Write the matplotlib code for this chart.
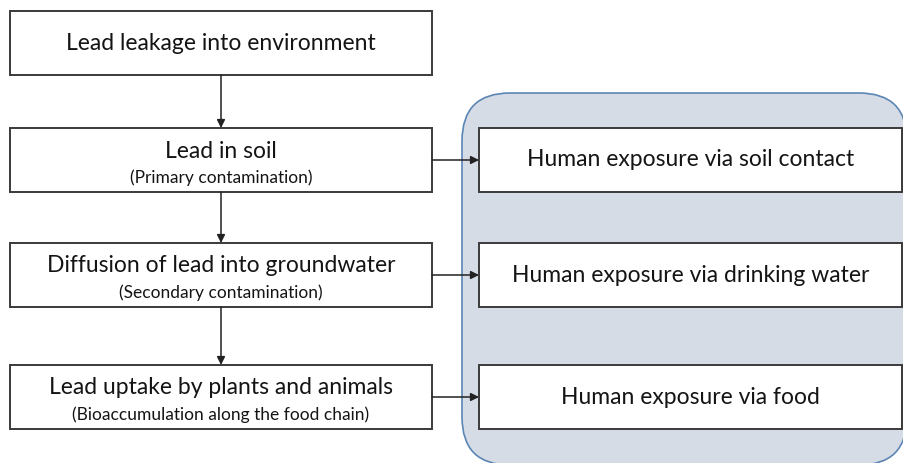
import matplotlib.pyplot as plt
from matplotlib.patches import FancyBboxPatch, Rectangle

# texts of the flow chart
steps = ["Lead leakage into environment", "Lead in soil",
         "Diffusion of lead into groundwater", "Lead uptake by plants and animals"]
notes = ["", "(Primary contamination)", "(Secondary contamination)",
         "(Bioaccumulation along the food chain)"]
exposures = ["Human exposure via soil contact", "Human exposure via drinking water",
             "Human exposure via food"]

plt.rcParams['font.family'] = ['Lato', 'DejaVu Sans']

fig = plt.figure(figsize=(9.04, 4.63), dpi=100)
ax = fig.add_axes([0, 0, 1, 1])
ax.set_xlim(0, 904)
ax.set_ylim(463, 0)
ax.axis("off")

# layout (pixels)
left_x0, left_x1 = 10, 432
right_x0, right_x1 = 479, 902
box_h = 64
left_tops = [11, 128, 243, 365]
right_tops = left_tops[1:]
edge = "#3a3a3a"
txt = "#141414"

# background panel for exposure routes
panel = FancyBboxPatch((462, 93), 445, 372, boxstyle="round,pad=0,rounding_size=48",
                       facecolor="#d6dce5", edgecolor="#5b86b5", linewidth=1.2, zorder=0)
ax.add_patch(panel)

for i, (top, step, note) in enumerate(zip(left_tops, steps, notes)):
    ax.add_patch(Rectangle((left_x0, top), left_x1 - left_x0, box_h, facecolor="white",
                           edgecolor=edge, linewidth=1.4, zorder=2))
    cx = (left_x0 + left_x1) / 2
    if note:
        ax.text(cx, top + 23, step, ha="center", va="center", fontsize=16.5, color=txt, zorder=3)
        ax.text(cx, top + 50, note, ha="center", va="center", fontsize=12.5, color=txt, zorder=3)
    else:
        ax.text(cx, top + box_h / 2, step, ha="center", va="center", fontsize=16.5, color=txt, zorder=3)
    if i < len(left_tops) - 1:
        ax.annotate("", xy=(cx, left_tops[i + 1]), xytext=(cx, top + box_h),
                    arrowprops=dict(arrowstyle="-|>", color="#222222", lw=1.1,
                                    mutation_scale=12, shrinkA=0, shrinkB=0), zorder=2)

for top, label in zip(right_tops, exposures):
    ax.add_patch(Rectangle((right_x0, top), right_x1 - right_x0, box_h, facecolor="white",
                           edgecolor=edge, linewidth=1.4, zorder=2))
    ax.text((right_x0 + right_x1) / 2, top + box_h / 2, label, ha="center", va="center",
            fontsize=16.5, color=txt, zorder=3)
    ax.annotate("", xy=(right_x0, top + box_h / 2), xytext=(left_x1, top + box_h / 2),
                arrowprops=dict(arrowstyle="-|>", color="#222222", lw=1.1,
                                mutation_scale=12, shrinkA=0, shrinkB=0), zorder=2)

fig.savefig("out.png", dpi=100, facecolor="white")
